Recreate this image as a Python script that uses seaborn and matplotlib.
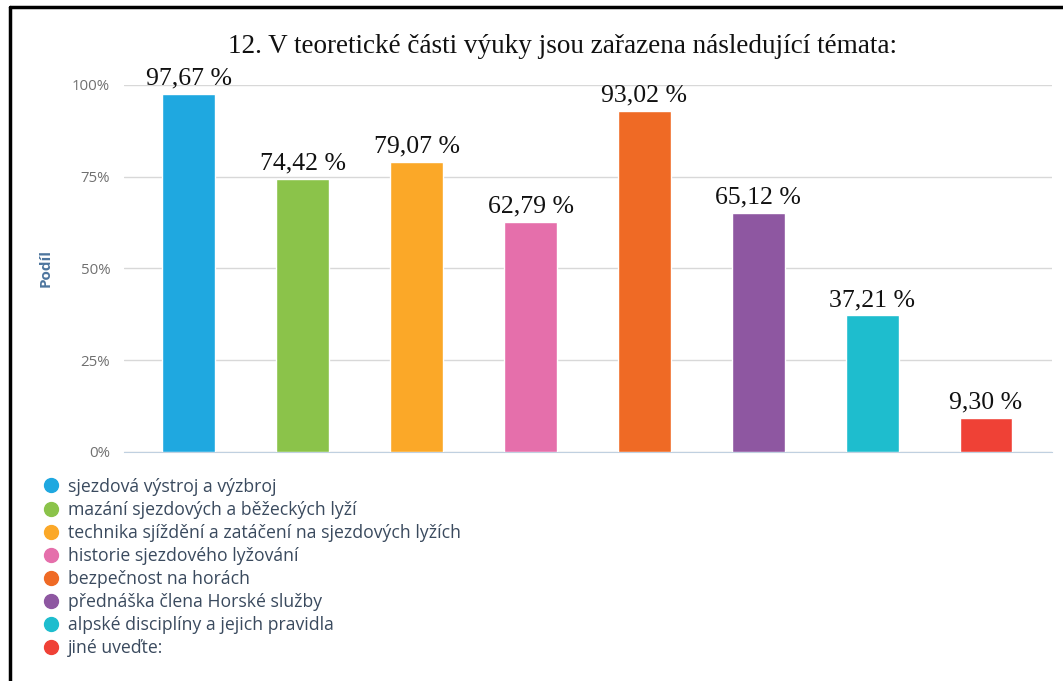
import matplotlib
matplotlib.use("Agg")
import matplotlib.pyplot as plt
from matplotlib.lines import Line2D
import pandas as pd
import seaborn as sns

# chart data
topics = [
    "sjezdová výstroj a výzbroj",
    "mazání sjezdových a běžeckých lyží",
    "technika sjíždění a zatáčení na sjezdových lyžích",
    "historie sjezdového lyžování",
    "bezpečnost na horách",
    "přednáška člena Horské služby",
    "alpské disciplíny a jejich pravidla",
    "jiné uveďte:",
]
shares = [97.67, 74.42, 79.07, 62.79, 93.02, 65.12, 37.21, 9.30]
colors = ["#1fa8e0", "#8bc34a", "#fba828", "#e56fab",
          "#ef6a25", "#8e57a1", "#1ebdce", "#ef4136"]
y_ticks = [0, 25, 50, 75, 100]
title = "12. V teoretické části výuky jsou zařazena následující témata:"

df = pd.DataFrame({"topic": topics, "share": shares})

sns.set_style("white")
plt.rcParams["font.family"] = ["Open Sans", "DejaVu Sans"]

fig = plt.figure(figsize=(10.63, 6.81), dpi=100)
ax = fig.add_axes([0.1167, 0.3363, 0.8730, 0.5389])

sns.barplot(data=df, x="topic", y="share", hue="topic", palette=colors,
            order=topics, hue_order=topics, dodge=False, legend=False,
            width=0.465, saturation=1, ax=ax, zorder=3)

ax.set_xlim(-0.57, 7.58)
ax.set_ylim(0, 100)
ax.set_yticks(y_ticks)
ax.set_yticklabels([f"{t}%" for t in y_ticks], color="#707070", fontsize=10.8)
ax.yaxis.grid(True, color="#d8d8d8", linewidth=1, zorder=0)
ax.tick_params(axis="y", length=0, pad=10)
ax.set_xticks(range(len(topics)))
ax.set_xticklabels([])
ax.tick_params(axis="x", length=5, color="#c0d0e0", width=1)
ax.set_xlabel("")
ax.set_ylabel("Podíl", color="#4d759e", fontsize=11, fontweight="bold", labelpad=14)

for side in ["top", "right", "left"]:
    ax.spines[side].set_visible(False)
ax.spines["bottom"].set_color("#c0d0e0")

for i, v in enumerate(shares):
    label = f"{v:.2f}".replace(".", ",") + " %"
    ax.annotate(label, (i, v), xytext=(0, 3), textcoords="offset points",
                ha="center", va="bottom", fontsize=18.5,
                family="Liberation Serif", color="#111111", clip_on=False)

fig.text(0.5296, 0.931, title, ha="center", va="center", fontsize=19.5,
         family="Liberation Serif", color="#111111")

handles = [Line2D([0], [0], marker="o", linestyle="", markersize=10,
                  markerfacecolor=c, markeredgecolor=c) for c in colors]
leg = fig.legend(handles, topics, loc="upper left",
                 bbox_to_anchor=(0.031, 0.309), frameon=False,
                 fontsize=12.7, labelspacing=0.29, handletextpad=0.4,
                 handlelength=1.2, borderaxespad=0)
for t in leg.get_texts():
    t.set_color("#3a4a5e")

# frame lines of the screenshot
fig.add_artist(Line2D([0.0094, 0.0094], [0, 0.99], color="black", linewidth=2.5,
                      transform=fig.transFigure))
fig.add_artist(Line2D([0.0094, 1.0], [0.99, 0.99], color="black", linewidth=2.5,
                      transform=fig.transFigure))

fig.savefig("out.png", dpi=100)
